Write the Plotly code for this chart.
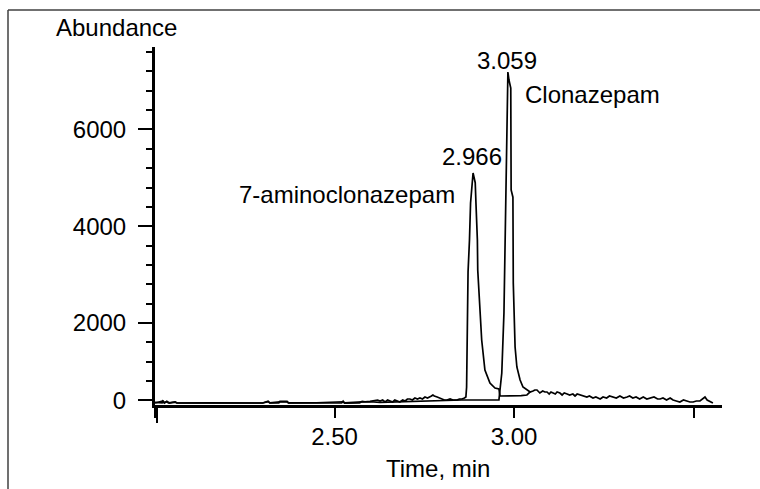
import plotly.graph_objects as go

# ---- data (time in min, abundance) ----
amino_t = [2.000, 2.010, 2.022, 2.026, 2.033, 2.040, 2.056, 2.062, 2.300, 2.315, 2.320, 2.345,
           2.348, 2.368, 2.372, 2.520, 2.524, 2.528, 2.570, 2.577, 2.585, 2.599, 2.610, 2.620,
           2.627, 2.634, 2.641, 2.648, 2.655, 2.662, 2.668, 2.675, 2.682, 2.690, 2.697, 2.703,
           2.710, 2.717, 2.724, 2.731, 2.738, 2.745, 2.752, 2.759, 2.766, 2.770, 2.774, 2.778,
           2.786, 2.792, 2.799, 2.806, 2.813, 2.822, 2.830, 2.841, 2.848, 2.855, 2.862, 2.866,
           2.868, 2.870, 2.872, 2.876, 2.879, 2.886, 2.892, 2.894, 2.898, 2.899, 2.903, 2.910,
           2.919, 2.933, 2.947, 2.958, 2.961, 2.980, 2.997, 3.020, 3.036, 3.045]
amino_v = [346, 360, 390, 346, 380, 346, 370, 346, 346, 385, 346, 346,
           380, 380, 346, 346, 385, 346, 350, 380, 372, 380, 388, 408,
           388, 408, 367, 408, 388, 367, 408, 388, 367, 408, 388, 429,
           429, 408, 450, 429, 450, 429, 470, 450, 470, 491, 512, 491,
           470, 450, 429, 408, 408, 429, 408, 408, 429, 429, 450, 470,
           677, 1649, 3054, 3716, 4480, 5100, 4900, 4480, 3716, 3096, 2475, 1649,
           1029, 760, 656, 636, 491, 491, 491, 500, 512, 574]

clon_t = [2.000, 2.020, 2.022, 2.026, 2.033, 2.037, 2.056, 2.060, 2.150, 2.300, 2.315, 2.320,
          2.348, 2.368, 2.372, 2.450, 2.524, 2.528, 2.577, 2.600, 2.627, 2.700, 2.800, 2.855,
          2.958, 2.961, 2.966, 2.972, 2.975, 2.978, 2.981, 2.983, 2.986, 2.991, 2.992, 2.997,
          2.998, 3.003, 3.008, 3.017, 3.025, 3.036, 3.045, 3.053, 3.058, 3.064, 3.068, 3.072,
          3.080, 3.086, 3.092, 3.098, 3.103, 3.109, 3.115, 3.120, 3.128, 3.134, 3.140, 3.148,
          3.155, 3.164, 3.170, 3.176, 3.184, 3.192, 3.203, 3.210, 3.220, 3.228, 3.240, 3.248,
          3.258, 3.266, 3.276, 3.285, 3.295, 3.305, 3.315, 3.322, 3.331, 3.340, 3.350, 3.360,
          3.370, 3.380, 3.390, 3.400, 3.407, 3.415, 3.425, 3.435, 3.443, 3.452, 3.462, 3.472,
          3.480, 3.490, 3.499, 3.508, 3.518, 3.527, 3.532, 3.538, 3.542, 3.546, 3.554]
clon_v = [360, 350, 385, 350, 372, 350, 365, 346, 350, 346, 375, 348,
          370, 368, 348, 352, 372, 350, 368, 372, 360, 375, 395, 408,
          408, 656, 967, 2207, 3716, 4749, 6857, 7188, 7023, 6857, 4749, 4600,
          2827, 1504, 1091, 822, 677, 615, 574, 594, 615, 615, 574, 553,
          594, 574, 574, 532, 574, 553, 532, 574, 553, 512, 553, 532,
          512, 532, 491, 532, 512, 491, 470, 491, 450, 470, 429, 470,
          450, 491, 470, 450, 491, 450, 470, 491, 450, 470, 429, 470,
          429, 450, 470, 429, 429, 450, 408, 450, 408, 388, 367, 408,
          388, 367, 367, 388, 388, 429, 470, 408, 388, 367, 346]

x_tick_vals = [2.0, 2.5, 3.0, 3.5]
x_tick_text = ["", "2.50", "3.00", ""]
y_tick_vals = [400, 2000, 4000, 6000]
y_tick_text = ["0", "2000", "4000", "6000"]

peak_labels = ["3.059", "2.966"]
peak_label_t = [2.9805, 2.883]
peak_label_v = [7436, 5452]
compound_names = ["Clonazepam", "7-aminoclonazepam"]
compound_t = [3.025, 2.841]
compound_v = [6713, 4666]

# ---- layout geometry (pixels) ----
W, H = 760, 489
L, R, T, B = 155, 38, 47, 84
PW, PH = W - L - R, H - T - B


def px(x):
    return (x - L) / PW


def py(y):
    return (H - B - y) / PH


FONT = "Liberation Sans, Arial, sans-serif"
FS = 24

fig = go.Figure()
fig.add_trace(go.Scatter(x=amino_t, y=amino_v, mode="lines",
                         line=dict(color="black", width=1.7), showlegend=False))
fig.add_trace(go.Scatter(x=clon_t, y=clon_v, mode="lines",
                         line=dict(color="black", width=1.7), showlegend=False))

for txt, t, v in zip(peak_labels, peak_label_t, peak_label_v):
    fig.add_annotation(x=t, y=v, xref="x", yref="y", text=txt, showarrow=False,
                       xanchor="center", yanchor="middle",
                       font=dict(family=FONT, size=FS, color="black"))
fig.add_annotation(x=compound_t[0], y=compound_v[0], text=compound_names[0], showarrow=False,
                   xanchor="left", yanchor="middle", font=dict(family=FONT, size=FS, color="black"))
fig.add_annotation(x=compound_t[1], y=compound_v[1], text=compound_names[1], showarrow=False,
                   xanchor="right", yanchor="middle", font=dict(family=FONT, size=FS, color="black"))

fig.add_annotation(x=px(116), y=py(28), xref="paper", yref="paper", text="Abundance",
                   showarrow=False, xanchor="center", yanchor="middle",
                   font=dict(family=FONT, size=FS, color="black"))
fig.add_annotation(x=px(438), y=py(468), xref="paper", yref="paper", text="Time, min",
                   showarrow=False, xanchor="center", yanchor="middle",
                   font=dict(family=FONT, size=FS, color="black"))

# outer frame (top and left edges)
fig.add_shape(type="line", xref="paper", yref="paper", x0=px(8), x1=px(765), y0=py(10), y1=py(10),
              line=dict(color="#404040", width=1.5))
fig.add_shape(type="line", xref="paper", yref="paper", x0=px(8), x1=px(8), y0=py(10), y1=py(495),
              line=dict(color="#404040", width=1.5))
# extension of the y axis below the x axis
fig.add_shape(type="line", xref="paper", yref="paper", x0=px(157), x1=px(157), y0=py(405), y1=py(423),
              line=dict(color="black", width=2))

fig.update_layout(
    width=W, height=H,
    margin=dict(l=L, r=R, t=T, b=B, pad=0),
    paper_bgcolor="white", plot_bgcolor="white",
    font=dict(family=FONT, size=FS, color="black"),
    xaxis=dict(range=[2.0, 2.0 + PW / 359.0], showgrid=False, zeroline=False,
               showline=True, linecolor="black", linewidth=3,
               ticks="outside", ticklen=10, tickwidth=2, tickcolor="black",
               tickmode="array", tickvals=x_tick_vals, ticktext=x_tick_text,
               ticklabelstandoff=-2),
    yaxis=dict(range=[305, 7705], showgrid=False, zeroline=False,
               showline=True, linecolor="black", linewidth=3,
               ticks="outside", ticklen=14, tickwidth=2, tickcolor="black",
               tickmode="array", tickvals=y_tick_vals, ticktext=y_tick_text,
               ticklabelstandoff=7,
               minor=dict(ticks="outside", ticklen=6, tickwidth=2, tickcolor="black",
                          tickmode="linear", tick0=0, dtick=400)),
)

fig.write_html("out.html")
